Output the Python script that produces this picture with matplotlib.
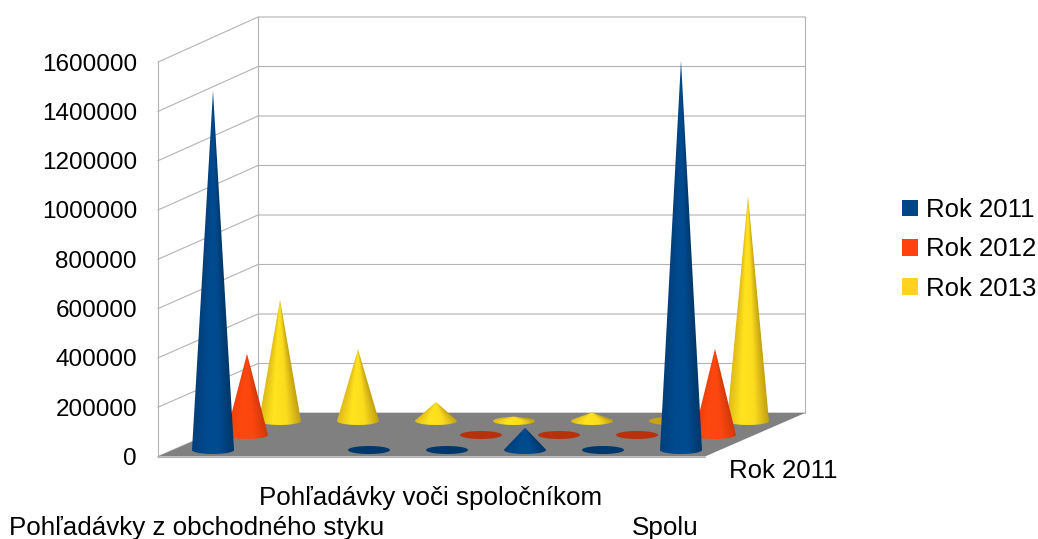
import numpy as np
import matplotlib
matplotlib.use('Agg')
import matplotlib.pyplot as plt
from matplotlib.colors import LinearSegmentedColormap
from matplotlib.patches import Polygon, Patch

plt.rcParams['font.family'] = ['Liberation Sans', 'DejaVu Sans']

# chart data (None = no cone drawn)
categories = ['Pohľadávky z obchodného styku', '', '', 'Pohľadávky voči spoločníkom', '', '', 'Spolu']
series_names = ['Rok 2011', 'Rok 2012', 'Rok 2013']
rok_2011 = [1453000, None, 1500, 1500, 90000, 1500, 1576000]
rok_2012 = [329000, None, None, 1500, 1500, 1500, 349000]
rok_2013 = [491000, 290000, 77000, 18000, 35000, 10000, 910000]
y_ticks = [0, 200000, 400000, 600000, 800000, 1000000, 1200000, 1400000, 1600000]
depth_label = 'Rok 2011'

# layout in pixels
FRONT_X, FRONT_Y = 158, 456.5
BACK_X, BACK_Y = 258, 413
RIGHT_X = 705
FRONT_SCALE = 49.3 / 200000
BACK_SCALE = 49.5 / 200000
PX_PER_UNIT = 49.4 / 200000
CAT_START, CAT_STEP = 213, 78
SERIES_DX = [0, 34, 67]
SERIES_Y = [450, 435, 421]
CONE_A, CONE_B = 21, 4

# colour stops across the cone, left to right
cone_colors = [['#003f7a', '#004a8f', '#004a8f', '#003768'],
               ['#f0400c', '#ff4810', '#fb4610', '#cf3a0a'],
               ['#e0ba18', '#ffe41f', '#fbdc1e', '#c2a012']]
flat_colors = ['#00386b', '#b8310c', '#c9a414']
legend_colors = ['#004586', '#ff420e', '#ffd320']


def cone_outline(cx, cy, h):
    """Apex, tangent points and front arc of a cone of pixel height h."""
    t = np.arcsin(CONE_B / h)
    arc = np.linspace(-t, np.pi + t, 80)
    x = cx + CONE_A * np.cos(arc)
    y = cy + CONE_B * np.sin(arc)
    return np.vstack([[cx, cy - h], np.column_stack([x, y])])


def draw_cone(ax, cat, ser, value, z):
    cx = CAT_START + CAT_STEP * cat + SERIES_DX[ser]
    cy = SERIES_Y[ser]
    h = value * PX_PER_UNIT
    if h <= CONE_B:
        # almost zero, only the dark base shows
        arc = np.linspace(0, 2 * np.pi, 80)
        pts = np.column_stack([cx + CONE_A * np.cos(arc), cy + CONE_B * np.sin(arc)])
        ax.add_patch(Polygon(pts, closed=True, fc=flat_colors[ser], ec='none', zorder=z))
        return
    patch = Polygon(cone_outline(cx, cy, h), closed=True, fc='none', ec='none', zorder=z)
    ax.add_patch(patch)
    cmap = LinearSegmentedColormap.from_list('cone', cone_colors[ser])
    # shading follows the silhouette, so it narrows towards the apex
    bottom = cy + CONE_B + 1
    rows = np.linspace(0.002, (bottom - cy + h) / h, 300).reshape(-1, 1)
    cols = np.linspace(-1, 1, 128).reshape(1, -1)
    grad = np.clip((cols / np.minimum(rows, 1) + 1) / 2, 0, 1)
    im = ax.imshow(grad, cmap=cmap, aspect='auto', zorder=z, interpolation='bilinear', vmin=0, vmax=1,
                   extent=(cx - CONE_A, cx + CONE_A, bottom, cy - h))
    im.set_clip_path(patch)


fig = plt.figure(figsize=(10.38, 5.39), dpi=100)
ax = fig.add_axes([0, 0, 1, 1])
ax.set_xlim(0, 1038)
ax.set_ylim(539, 0)
ax.axis('off')
ax.set_autoscale_on(False)

wall_color = '#b3b3b3'
back_right = BACK_X + RIGHT_X - FRONT_X

# floor
ax.add_patch(Polygon([(FRONT_X, FRONT_Y), (BACK_X, BACK_Y), (back_right, BACK_Y), (RIGHT_X, FRONT_Y)],
                     closed=True, fc='#808080', ec='none', zorder=1))
ax.plot([FRONT_X, RIGHT_X], [FRONT_Y, FRONT_Y], color=wall_color, lw=0.8, zorder=1)

# walls and grid
for v in y_ticks:
    fy = FRONT_Y - v * FRONT_SCALE
    by = BACK_Y - v * BACK_SCALE
    ax.plot([FRONT_X, BACK_X, back_right], [fy, by, by], color=wall_color, lw=0.8, zorder=0)
    ax.text(137, fy, str(v), ha='right', va='center_baseline', fontsize=17.5, color='black')
ax.plot([FRONT_X, FRONT_X], [FRONT_Y, FRONT_Y - y_ticks[-1] * FRONT_SCALE], color=wall_color, lw=0.8, zorder=0)
for x in [BACK_X, back_right]:
    ax.plot([x, x], [BACK_Y, BACK_Y - y_ticks[-1] * BACK_SCALE], color=wall_color, lw=0.8, zorder=0)

# cones, back row first so the front row covers it
z = 2
for ser, values in reversed(list(enumerate([rok_2011, rok_2012, rok_2013]))):
    for cat, value in enumerate(values):
        if value is not None:
            draw_cone(ax, cat, ser, value, z)
            z += 1

# category labels sit in two staggered rows
label_rows = [526, 495]
shown = [c for c in range(len(categories)) if categories[c]]
for i, c in enumerate(shown):
    ax.text(CAT_START + CAT_STEP * c - 16, label_rows[i % 2], categories[c], ha='center',
            va='center_baseline', fontsize=18.7, color='black')
ax.text(729, 469, depth_label, ha='left', va='center_baseline', fontsize=18.5, color='black')

handles = [Patch(fc=c, ec='none', label=n) for c, n in zip(legend_colors, series_names)]
leg = ax.legend(handles=handles, loc='upper left', bbox_to_anchor=(902 / 1038, 1 - 198 / 539),
                frameon=False, fontsize=18.5, handlelength=0.62, handleheight=0.62,
                handletextpad=0.32, labelspacing=0.6, borderpad=0, borderaxespad=0)

fig.savefig('out.png', dpi=100)
